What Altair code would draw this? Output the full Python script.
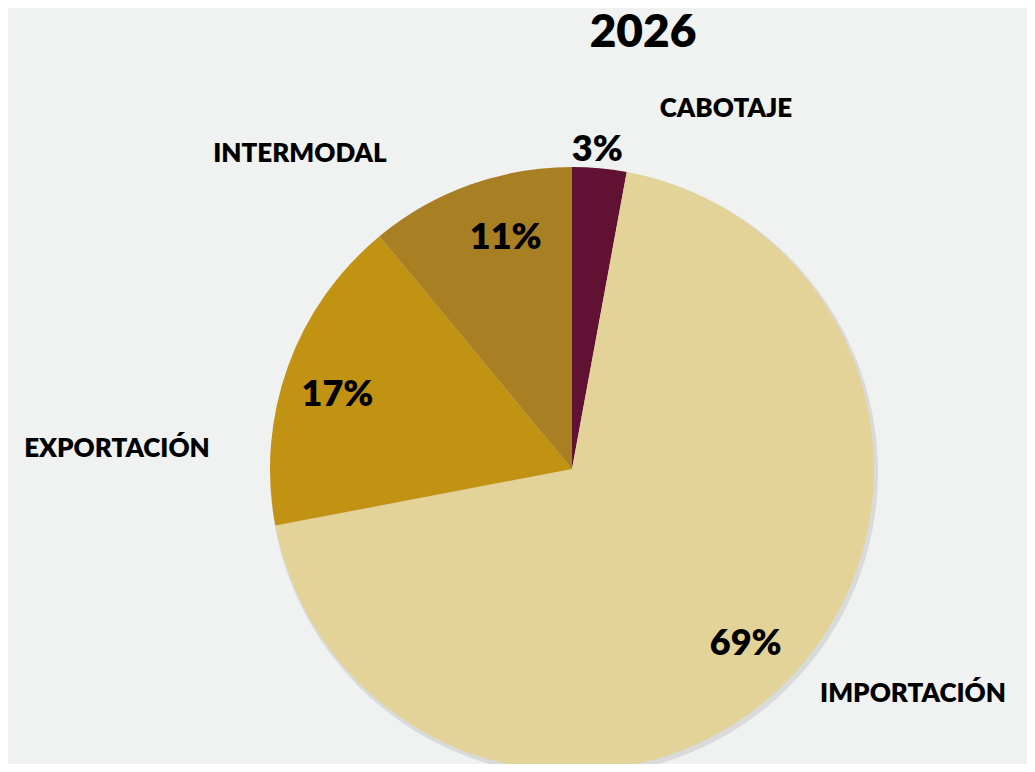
import altair as alt
import pandas as pd

# ---- data ----
categories = ["CABOTAJE", "IMPORTACIÓN", "EXPORTACIÓN", "INTERMODAL"]
shares = [0.029, 0.691, 0.170, 0.110]
slice_colors = ["#611232", "#e3d398", "#c29313", "#a87f22"]
title_text = "2026"

df = pd.DataFrame({"cat": categories, "share": shares, "idx": list(range(len(categories)))})

W, H = 1019, 756
CX, CY, R = 564, 461, 302
FONT = "Lato"
WEIGHT = 800

base = alt.Chart(df).encode(
    theta=alt.Theta("share:Q", stack=True),
    order=alt.Order("idx:Q"),
)

shadow = alt.Chart(pd.DataFrame({"k": [0]})).mark_arc(
    radius=R + 2, x=CX + 2, y=CY + 3, color="#d9dada"
).encode(theta=alt.value(0), theta2=alt.value(6.2832))

pie = base.mark_arc(radius=R, x=CX, y=CY).encode(
    color=alt.Color("cat:N", scale=alt.Scale(domain=categories, range=slice_colors), legend=None)
)


def pct_layer(cat, radius, dx=0, dy=0):
    return base.mark_text(radius=radius, x=CX, y=CY, dx=dx, dy=dy, font=FONT,
                          fontWeight=WEIGHT, fontSize=36, color="black").encode(
        text=alt.Text("share:Q", format=".0%"),
        opacity=alt.condition(f"datum.cat == '{cat}'", alt.value(1), alt.value(0)),
    )


pct_cab = pct_layer(categories[0], 322, dx=-4, dy=2)
pct_imp = pct_layer(categories[1], 245, dx=0, dy=2)
pct_exp = pct_layer(categories[2], 245, dx=-4, dy=9)
pct_int = pct_layer(categories[3], 243, dx=16, dy=-2)


def annot(txt, x, y, size):
    return alt.Chart(pd.DataFrame({"t": [txt]})).mark_text(
        font=FONT, fontWeight=WEIGHT, fontSize=size, color="black",
        align="center", baseline="alphabetic"
    ).encode(text="t:N", x=alt.value(x), y=alt.value(y))


title = annot(title_text, 635, 39, 46)
lab_cab = annot(categories[0], 718, 109, 26)
lab_imp = annot(categories[1], 905, 694, 26)
lab_exp = annot(categories[2], 109, 449, 26)
lab_int = annot(categories[3], 292, 154, 26)

chart = alt.layer(
    shadow, pie, pct_cab, pct_imp, pct_exp, pct_int,
    title, lab_cab, lab_imp, lab_exp, lab_int
).properties(
    width=W, height=H, padding=0, autosize="none", background="#f0f1f1"
).configure_view(stroke=None)

chart.save("out.html", embed_options={"renderer": "svg", "actions": False})
